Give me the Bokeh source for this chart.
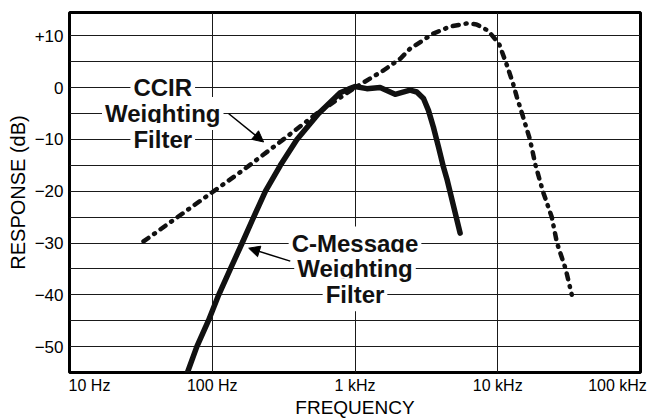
from bokeh.plotting import figure
from bokeh.models import FixedTicker, Label, Arrow, NormalHead
from bokeh.embed import file_html
from bokeh.resources import INLINE

# ---- data ----
ccir_freq = [33, 100, 165, 315, 540, 1000, 1580, 2080, 2430, 3520, 4640, 6100,
             7100, 8550, 10200, 11600, 12800, 13600, 14800, 16800, 18400,
             20700, 23900, 26000, 29900, 33000]
ccir_db = [-29.7, -20.2, -15.9, -10.0, -5.0, 0.0, 3.3, 5.6, 7.5, 10.4, 11.8, 12.4,
           12.2, 11.0, 8.5, 4.3, 0.8, -1.8, -5.0, -10.0, -15.0,
           -20.0, -25.0, -30.0, -35.0, -40.0]

cmsg_freq = [66, 78, 94, 111, 134, 162, 195, 236, 300, 392, 556, 787, 900, 1000,
             1210, 1500, 1910, 2430, 2710, 3020, 3270, 3540, 3840, 4160, 4430, 5450]
cmsg_db = [-55.5, -50, -45, -40, -35, -30, -25, -20, -15, -10, -5, -1.0, -0.3, 0.2,
           -0.2, 0.0, -1.3, -0.5, -0.85, -2.1, -4.4, -7.6, -11.4, -15.3, -17.9, -28.1]

x_ticks = [10, 100, 1000, 10000, 100000]
x_tick_labels = ["10 Hz", "100 Hz", "1 kHz", "10 kHz", "100 kHz"]
y_ticks = [10, 0, -10, -20, -30, -40, -50]
y_tick_labels = ["+10", "0", "\u221210", "\u221220", "\u221230", "\u221240", "\u221250"]
y_grid = [-50, -45, -40, -35, -30, -25, -20, -15, -10, -5, 0, 5, 10]

FONT = "Liberation Sans"

FRAME_W = 571
DECADE_PX = FRAME_W / 4.0

p = figure(frame_width=FRAME_W, frame_height=360, x_axis_type="log",
           x_range=(10, 100000), y_range=(-55, 14.5),
           output_backend="svg", toolbar_location=None,
           min_border_left=69, min_border_top=12, min_border_right=8,
           min_border_bottom=40, background_fill_color="white",
           border_fill_color="white")

p.outline_line_color = "black"
p.outline_line_width = 3

# x axis: the end labels are nudged inside the frame, as in the reference
shift_first = 10 ** (20 / DECADE_PX)     # ~20 px to the right
shift_last = 10 ** (-23 / DECADE_PX)     # ~23 px to the left
label_pos = [x_ticks[0] * shift_first] + x_ticks[1:4] + [x_ticks[4] * shift_last]

xa = p.xaxis[0]
xa.ticker = FixedTicker(ticks=label_pos)
xa.major_label_overrides = dict(zip(label_pos, x_tick_labels))
ya = p.yaxis[0]
ya.ticker = FixedTicker(ticks=y_ticks)
ya.major_label_overrides = dict(zip(y_ticks, y_tick_labels))

for ax in (xa, ya):
    ax.axis_line_color = None
    ax.major_tick_line_color = None
    ax.minor_tick_line_color = None
    ax.major_tick_out = 0
    ax.major_tick_in = 0
    ax.major_label_text_font = FONT
    ax.major_label_text_color = "black"
    ax.axis_label_text_font = FONT
    ax.axis_label_text_font_style = "normal"
    ax.axis_label_text_color = "black"

xa.major_label_text_font_size = "16px"
xa.major_label_standoff = 4
xa.axis_label = "FREQUENCY"
xa.axis_label_text_font_size = "19px"
xa.axis_label_standoff = 0

ya.major_label_text_font_size = "17px"
ya.major_label_standoff = 6
ya.axis_label = "RESPONSE (dB)"
ya.axis_label_text_font_size = "20px"
ya.axis_label_standoff = 3

# grid
p.xgrid[0].ticker = FixedTicker(ticks=[100, 1000, 10000])
p.xgrid[0].grid_line_color = "#1a1a1a"
p.xgrid[0].grid_line_width = 1
p.ygrid[0].ticker = FixedTicker(ticks=y_grid)
p.ygrid[0].grid_line_color = "#1a1a1a"
p.ygrid[0].grid_line_width = 1

# curves
p.line(cmsg_freq, cmsg_db, line_color="#111111", line_width=5.5,
       line_cap="round", line_join="round")
p.line(ccir_freq, ccir_db, line_color="#111111", line_width=4.5,
       line_dash="6 7 1 7", line_cap="round", line_join="round")

# annotations
def note(x, y, t):
    p.add_layout(Label(x=x, y=y, text=t, text_align="center",
                       text_baseline="middle", text_font=FONT,
                       text_font_size="24px", text_font_style="bold",
                       text_color="#111111", background_fill_color="white",
                       padding=3))

note(45, 0, "CCIR")
note(45, -5, "Weighting")
note(45, -10, "Filter")
note(1000, -30, "C-Message")
note(1000, -35, "Weighting")
note(1000, -40, "Filter")

p.add_layout(Arrow(end=NormalHead(size=11, fill_color="black", line_color="black"),
                   x_start=130, y_start=-5.0, x_end=229, y_end=-10.5,
                   line_width=1.5, line_color="black"))
p.add_layout(Arrow(end=NormalHead(size=11, fill_color="black", line_color="black"),
                   x_start=352, y_start=-33.5, x_end=180, y_end=-31.0,
                   line_width=1.5, line_color="black"))

open("out.html", "w").write(file_html(p, INLINE))
